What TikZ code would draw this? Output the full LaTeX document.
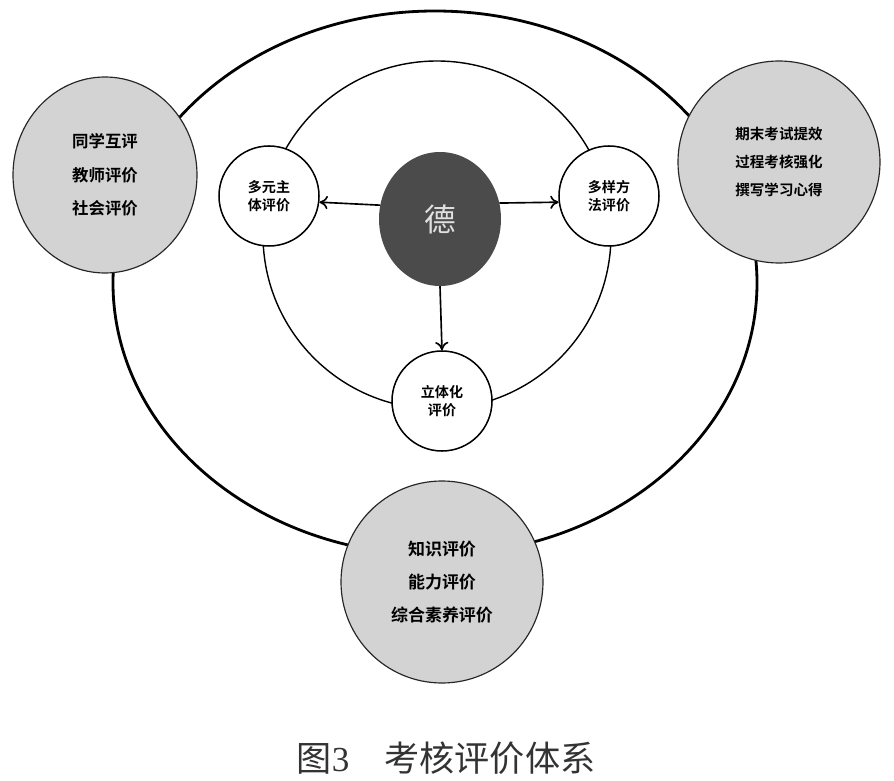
\documentclass[tikz,border=0pt]{standalone}
\usepackage{fontspec}
\newfontfamily\cjk{Noto Sans CJK SC}[BoldFont={Noto Sans CJK SC Bold}]
\newfontfamily\numfont{Liberation Serif}
\usetikzlibrary{shapes.geometric,arrows.meta}
\definecolor{lightshade}{HTML}{D3D3D3}
\definecolor{darkshade}{HTML}{4B4B4B}
\tikzset{
  bigball/.style={circle, draw=black!85, fill=lightshade, line width=1pt, inner sep=0pt, align=center},
  smallball/.style={circle, draw=black, fill=white, line width=1.3pt, minimum size=30mm, inner sep=0pt, align=center, font=\cjk\bfseries\fontsize{12}{15}\selectfont},
  arr/.style={line width=1.4pt, -{To[length=2.5mm,width=4mm]}},
}
\begin{document}
\begin{tikzpicture}[x=0.3mm, y=-0.3mm]
  \useasboundingbox (0,0) rectangle (894,781);
  % rings
  \draw[line width=2.4pt] (435,283) ellipse [x radius=322, y radius=272];
  \draw[line width=1.2pt] (437,235) circle [radius=174];
  % outer balls
  \node[bigball, shape=ellipse, minimum width=55.2mm, minimum height=58.8mm, font=\cjk\bfseries\fontsize{14}{28.6}\selectfont] (peer) at (105,175) {同学互评\\教师评价\\社会评价};
  \node[bigball, minimum size=60.6mm, font=\cjk\bfseries\fontsize{12.4}{24}\selectfont] (exam) at (779,162) {期末考试提效\\过程考核强化\\撰写学习心得};
  \node[bigball, minimum size=60.6mm, font=\cjk\bfseries\fontsize{14.5}{28}\selectfont] (skill) at (442,582) {知识评价\\能力评价\\综合素养评价};
  % inner balls
  \node[smallball] (zhuti) at (269,196) {多元主\\体评价};
  \node[smallball] (fangfa) at (609,196) {多样方\\法评价};
  \node[smallball] (liti) at (442,401) {立体化\\评价};
  \node[ellipse, fill=darkshade, minimum width=36.6mm, minimum height=40.2mm, inner sep=0pt, text=white!88!black, font=\cjk\fontsize{27}{27}\selectfont] (de) at (440,219) {德};
  % arrows
  \draw[arr] (de.167) -- (zhuti.-7);
  \draw[arr] (de.15) -- (fangfa.-173);
  \draw[arr] (de.south) -- (liti.north);
  % caption
  \node[text=black!80, font=\fontsize{30}{30}\selectfont] (caption) at (446,758) {{\cjk 图}{\numfont 3}\hspace{1em}{\cjk 考核评价体系}};
\end{tikzpicture}
\end{document}
